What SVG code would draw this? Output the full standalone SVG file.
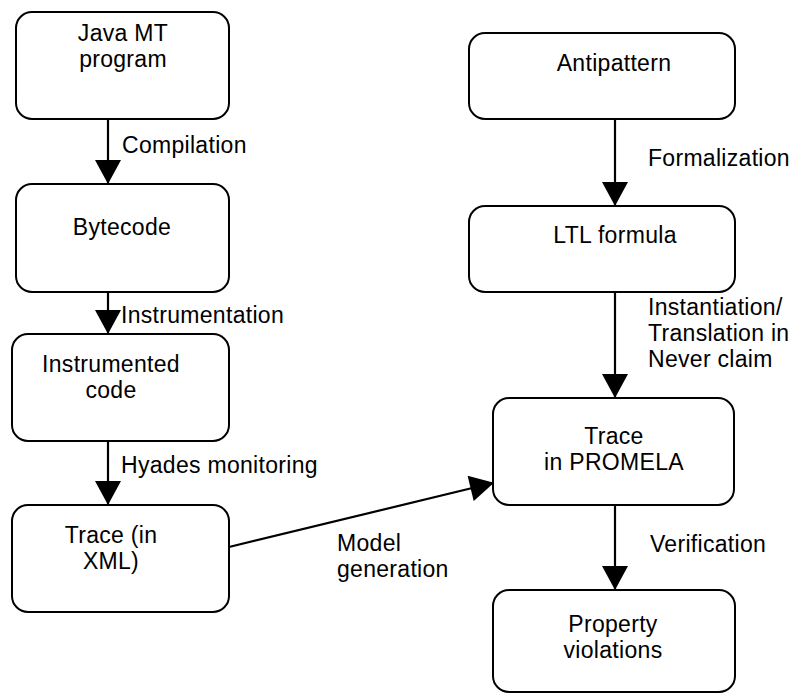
<svg xmlns="http://www.w3.org/2000/svg" width="794" height="695" viewBox="0 0 794 695">
<defs>
<style>
.box{fill:#fff;stroke:#000;stroke-width:2}
.t{font-family:"Liberation Sans",Arial,sans-serif;font-size:23px;letter-spacing:0.3px;fill:#000}
.c{text-anchor:middle}
.edge{stroke:#000;stroke-width:2.2;fill:none}
</style>
<marker id="ah" markerUnits="userSpaceOnUse" markerWidth="26" markerHeight="26" viewBox="0 0 24 26" refX="23" refY="13" orient="auto">
<path d="M0,0 L24,13 L0,26 Z" fill="#000"/>
</marker>
</defs>
<rect width="794" height="695" fill="#fff"/>
<g id="connectors">
<line class="edge" x1="108" y1="119" x2="108" y2="183" marker-end="url(#ah)"/>
<line class="edge" x1="108" y1="292" x2="108" y2="333" marker-end="url(#ah)"/>
<line class="edge" x1="108" y1="441" x2="108" y2="504" marker-end="url(#ah)"/>
<line class="edge" x1="615" y1="119" x2="615" y2="205" marker-end="url(#ah)"/>
<line class="edge" x1="615" y1="292" x2="615" y2="397" marker-end="url(#ah)"/>
<line class="edge" x1="615" y1="505" x2="615" y2="589" marker-end="url(#ah)"/>
<line class="edge" x1="229" y1="547" x2="493" y2="483" marker-end="url(#ah)"/>
<text class="t" x="122" y="153">Compilation</text>
<text class="t" x="121" y="323">Instrumentation</text>
<text class="t" x="121" y="473">Hyades monitoring</text>
<text class="t" x="648" y="166">Formalization</text>
<text class="t" x="648" y="315">Instantiation/</text>
<text class="t" x="648" y="341">Translation in</text>
<text class="t" x="648" y="367">Never claim</text>
<text class="t" x="650" y="552">Verification</text>
<text class="t" x="337" y="551">Model</text>
<text class="t" x="337" y="577">generation</text>
</g>
<g id="java">
<rect class="box" x="16" y="12" width="213" height="107" rx="16"/>
<text class="t c" x="123" y="41">Java MT</text>
<text class="t c" x="123" y="67">program</text>
</g>
<g id="bytecode">
<rect class="box" x="16" y="184" width="213" height="108" rx="16"/>
<text class="t c" x="122" y="235">Bytecode</text>
</g>
<g id="instrumented">
<rect class="box" x="12" y="334" width="217" height="107" rx="16"/>
<text class="t c" x="111" y="372">Instrumented</text>
<text class="t c" x="111" y="398">code</text>
</g>
<g id="tracexml">
<rect class="box" x="12" y="505" width="217" height="107" rx="16"/>
<text class="t c" x="111" y="543">Trace (in</text>
<text class="t c" x="111" y="569">XML)</text>
</g>
<g id="antipattern">
<rect class="box" x="469" y="33" width="266" height="86" rx="16"/>
<text class="t c" x="614" y="71">Antipattern</text>
</g>
<g id="ltl">
<rect class="box" x="469" y="206" width="266" height="86" rx="16"/>
<text class="t c" x="615" y="243">LTL formula</text>
</g>
<g id="promela">
<rect class="box" x="493" y="398" width="241" height="107" rx="16"/>
<text class="t c" x="614" y="444">Trace</text>
<text class="t c" x="614" y="470">in PROMELA</text>
</g>
<g id="violations">
<rect class="box" x="493" y="590" width="242" height="102" rx="16"/>
<text class="t c" x="613" y="632">Property</text>
<text class="t c" x="613" y="658">violations</text>
</g>
</svg>
